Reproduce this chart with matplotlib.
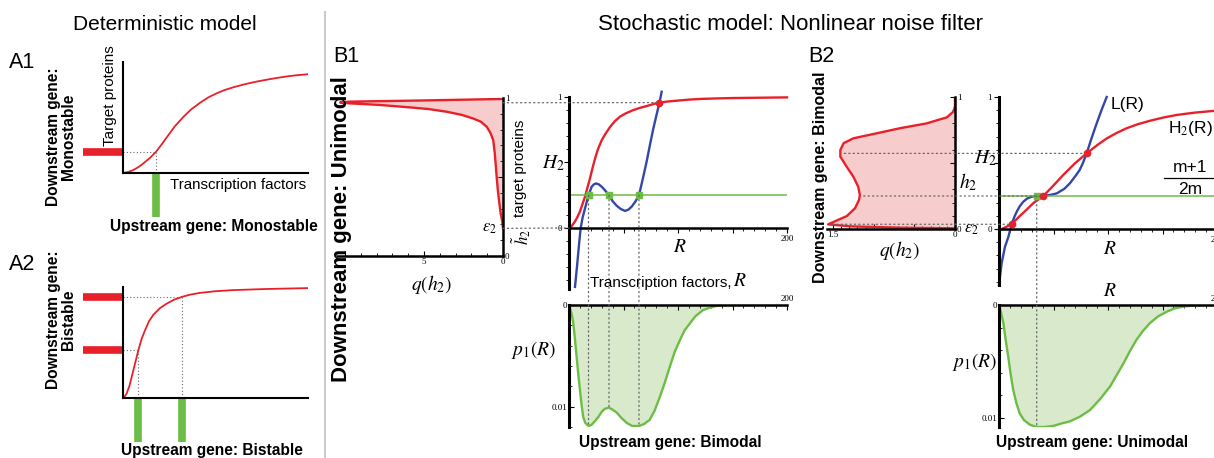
import matplotlib
matplotlib.use("Agg")
import matplotlib.pyplot as plt
import numpy as np
from matplotlib.patches import ConnectionPatch
from matplotlib.lines import Line2D
from matplotlib.ticker import MultipleLocator

plt.rcParams["font.family"] = ["Liberation Sans", "DejaVu Sans"]
plt.rcParams["mathtext.fontset"] = "stix"

RED = "#e8202a"
BLUE = "#3447a8"
GREEN = "#6cbd45"
PINK = "#f6cccc"
LGREEN = "#d8eacb"
DOT = "#666666"

# --- deterministic model: response curves (fraction of axis) ---
a1_x = [0, 0.03, 0.056, 0.085, 0.11, 0.145, 0.178, 0.21, 0.236, 0.28, 0.326, 0.37, 0.416, 0.46, 0.506, 0.55, 0.596, 0.64, 0.685, 0.73, 0.775, 0.83, 0.885, 0.94, 1.0]
a1_y = [0, 0.01, 0.027, 0.055, 0.087, 0.135, 0.19, 0.26, 0.32, 0.42, 0.505, 0.575, 0.632, 0.68, 0.718, 0.748, 0.772, 0.792, 0.81, 0.826, 0.84, 0.856, 0.87, 0.881, 0.89]
a1_state_x = [0.178]
a1_state_y = [0.19]

a2_x = [0, 0.01, 0.02, 0.035, 0.047, 0.065, 0.083, 0.1, 0.119, 0.14, 0.164, 0.2, 0.236, 0.275, 0.317, 0.36, 0.416, 0.5, 0.596, 0.775, 1.0]
a2_y = [0, 0.015, 0.042, 0.11, 0.19, 0.31, 0.43, 0.53, 0.61, 0.69, 0.75, 0.81, 0.85, 0.885, 0.91, 0.93, 0.947, 0.962, 0.972, 0.982, 0.99]
a2_state_x = [0.083, 0.317]
a2_state_y = [0.43, 0.91]

# --- stochastic model B1 ---
b1_h = [0.175, 0.22, 0.27, 0.35, 0.42, 0.5, 0.565, 0.65, 0.734, 0.78, 0.818, 0.85, 0.87, 0.893, 0.913, 0.93, 0.939, 0.948, 0.956, 0.962, 0.966, 0.972, 0.977, 0.984, 0.994]
b1_q = [0.0, 0.05, 0.15, 0.25, 0.33, 0.4, 0.45, 0.52, 0.62, 0.8, 1.03, 1.4, 1.88, 2.6, 3.56, 4.7, 5.7, 6.8, 7.8, 8.9, 9.7, 10.3, 9.7, 5.3, 0.0]

b1_R = [0, 2.5, 5.5, 7.5, 10, 12.3, 14.7, 17, 19.3, 21.5, 23.9, 26.5, 30, 33.5, 37.6, 42, 46.8, 52, 59, 65, 71, 77, 83, 90, 99, 110, 120, 135, 150, 170, 200]
b1_H2 = [0, 0.015, 0.05, 0.08, 0.125, 0.18, 0.24, 0.31, 0.38, 0.455, 0.53, 0.6, 0.67, 0.72, 0.77, 0.815, 0.85, 0.875, 0.9, 0.917, 0.93, 0.945, 0.957, 0.965, 0.972, 0.98, 0.985, 0.989, 0.992, 0.994, 0.997]

b1_L_R = [5.5, 7.5, 9.5, 10.7, 12.5, 14.7, 17.9, 20.8, 22.8, 24.8, 27.3, 30, 33.3, 36.7, 40, 43.7, 47.5, 51.4, 54.5, 57.5, 60.8, 64.2, 67.7, 71.3, 74.4, 77.4, 80.2, 83, 85]
b1_L = [-0.45, -0.28, -0.1, 0.0, 0.08, 0.15, 0.25, 0.315, 0.333, 0.34, 0.333, 0.315, 0.285, 0.25, 0.205, 0.17, 0.145, 0.13, 0.14, 0.163, 0.2, 0.25, 0.375, 0.51, 0.64, 0.76, 0.86, 0.957, 1.04]

b1_theta = 0.25
b1_modes = [17.9, 36.7, 64.2]
b1_fixed = (83, 0.957)
b1_eps = 0.175
b1_top_h = 0.97

b1_p_R = [0, 1, 2.5, 4, 5.5, 7, 8.5, 10, 11.5, 13, 15, 17.9, 20.5, 24, 27, 30, 33, 36.7, 40, 44, 48, 53, 58, 64.2, 69, 74, 78.5, 83.5, 88, 92.7, 97, 102, 106, 111, 116, 123, 128, 135, 142, 150, 200]
b1_p = [0, 0.0003, 0.0009, 0.0018, 0.0034, 0.0051, 0.0068, 0.0083, 0.0098, 0.011, 0.0116, 0.0119, 0.0118, 0.0114, 0.011, 0.0105, 0.0102, 0.0101, 0.0103, 0.0106, 0.0111, 0.0116, 0.0119, 0.0119, 0.0117, 0.0113, 0.0104, 0.009, 0.0076, 0.006, 0.0046, 0.0034, 0.0025, 0.0018, 0.0011, 0.0005, 0.0003, 0.0001, 0.00003, 0.0, 0.0]

# --- stochastic model B2 ---
b2_h = [0.005, 0.01, 0.02, 0.035, 0.063, 0.098, 0.157, 0.22, 0.258, 0.32, 0.396, 0.47, 0.548, 0.598, 0.65, 0.687, 0.72, 0.763, 0.80, 0.846, 0.889, 0.93, 1.0]
b2_q = [0.0, 0.68, 1.29, 1.56, 1.46, 1.33, 1.23, 1.18, 1.17, 1.19, 1.25, 1.33, 1.41, 1.41, 1.37, 1.25, 1.0, 0.68, 0.35, 0.1, 0.02, 0.0, 0.0]

b2_R = [0, 5, 11.6, 18, 25, 32, 40.7, 50, 59, 70, 80.4, 90, 99, 108, 117, 127, 138.5, 150, 163, 180, 200]
b2_H2 = [-0.01, 0.01, 0.036, 0.09, 0.144, 0.2, 0.25, 0.33, 0.41, 0.5, 0.573, 0.635, 0.687, 0.728, 0.763, 0.793, 0.82, 0.843, 0.864, 0.882, 0.897]

b2_L_R = [0, 2.4, 5.5, 8.6, 11.6, 14, 16.2, 19, 22.3, 26, 30, 34.6, 40.7, 47, 53, 60, 65, 70, 74, 77, 80.4, 85, 89.6, 94, 98.8]
b2_L = [-0.424, -0.26, -0.134, -0.06, 0.036, 0.09, 0.13, 0.172, 0.207, 0.232, 0.245, 0.25, 0.252, 0.258, 0.27, 0.305, 0.346, 0.4, 0.447, 0.5, 0.573, 0.69, 0.80, 0.9, 1.0]

b2_theta = 0.25
b2_mode = 34.6
b2_fixed_R = [11.6, 40.7, 80.4]
b2_fixed_H = [0.036, 0.25, 0.573]

b2_p_R = [0, 1.5, 4, 6, 8.5, 10.5, 13, 16, 19, 23, 28.4, 34.6, 42, 50, 57, 65, 74, 83.5, 93, 102, 108, 114, 120, 126, 132, 138.5, 146, 153.8, 161, 169, 180, 200]
b2_p = [0, 0.0005, 0.0016, 0.003, 0.0046, 0.006, 0.0075, 0.0087, 0.0096, 0.0102, 0.0106, 0.0108, 0.0108, 0.0107, 0.0105, 0.0103, 0.0099, 0.0093, 0.0083, 0.0072, 0.0062, 0.0052, 0.0041, 0.0031, 0.0023, 0.0016, 0.001, 0.0006, 0.0003, 0.00015, 0.00003, 0]

W, H = 1214, 458
fig = plt.figure(figsize=(W / 100, H / 100), dpi=100)


def box(x0, y0, x1, y1):
    return fig.add_axes([x0 / W, 1 - y1 / H, (x1 - x0) / W, (y1 - y0) / H])


def ftext(x, y, s, **kw):
    kw.setdefault("ha", "center")
    kw.setdefault("va", "center")
    fig.text(x / W, 1 - y / H, s, **kw)


def serif_ticks(ax):
    for lab in ax.get_xticklabels() + ax.get_yticklabels():
        lab.set_fontfamily("Liberation Serif")
        lab.set_fontsize(6.5)
    ax.tick_params(which="major", length=3.5, width=0.8, pad=1.5)
    ax.tick_params(which="minor", length=2, width=0.6)


def link(axA, xyA, axB, xyB):
    con = ConnectionPatch(xyA=xyA, xyB=xyB, coordsA=axA.transData, coordsB=axB.transData,
                          color=DOT, lw=0.9, linestyle=(0, (1, 2.5)))
    fig.add_artist(con)


# --- deterministic panels ---
def det_panel(ax, xs, ys, sx, sy):
    ax.plot(xs, ys, color=RED, lw=1.3)
    ax.set_xlim(0, 1)
    ax.set_ylim(0, 1)
    for s in ("top", "right"):
        ax.spines[s].set_visible(False)
    for s in ("left", "bottom"):
        ax.spines[s].set_linewidth(1.5)
    ax.set_xticks([])
    ax.set_yticks([])
    ax.patch.set_alpha(0)
    for x, y in zip(sx, sy):
        ax.plot([0, x], [y, y], color=DOT, lw=0.8, ls=(0, (1, 2)))
        ax.plot([x, x], [0, y], color=DOT, lw=0.8, ls=(0, (1, 2)))
        ax.plot([-0.216, 0], [y, y], color=RED, lw=5.5, solid_capstyle="butt", clip_on=False)
        ax.plot([x, x], [0, -0.4], color=GREEN, lw=5.5, solid_capstyle="butt", clip_on=False)


ax_a1 = box(123, 62, 308, 173)
det_panel(ax_a1, a1_x, a1_y, a1_state_x, a1_state_y)
ax_a2 = box(123, 287, 308, 398)
det_panel(ax_a2, a2_x, a2_y, a2_state_x, a2_state_y)

ftext(165, 24, "Deterministic model", fontsize=15)
ftext(9, 62, "A1", fontsize=15.5, ha="left")
ftext(110, 96, "Target proteins", fontsize=11, rotation=90)
ftext(61, 137, "Downstream gene:\nMonostable", fontsize=11.2, weight="bold", rotation=90,
      multialignment="center", linespacing=1.05)
ftext(238, 185, "Transcription factors", fontsize=10.9)
ftext(214, 227, "Upstream gene: Monostable", fontsize=11.2, weight="bold")
ftext(9, 265, "A2", fontsize=15.5, ha="left")
ftext(61, 320, "Downstream gene:\nBistable", fontsize=11.2, weight="bold", rotation=90,
      multialignment="center", linespacing=1.05)
ftext(212, 450, "Upstream gene: Bistable", fontsize=11.2, weight="bold")

fig.add_artist(Line2D([325 / W, 325 / W], [0, 1 - 12 / H], color="#cccccc", lw=1.5))
ftext(790, 24, "Stochastic model: Nonlinear noise filter", fontsize=16)


# --- helpers for stochastic panels ---
def q_panel(ax, h, q, qmax, qticks, qlabels, qminor):
    ax.fill_betweenx(h, q, 0, color=PINK, lw=0)
    ax.plot(q, h, color=RED, lw=1.7)
    ax.set_xlim(qmax, 0)
    ax.set_ylim(0, 1)
    for s in ("top", "left"):
        ax.spines[s].set_visible(False)
    for s in ("right", "bottom"):
        ax.spines[s].set_linewidth(1.8)
    ax.patch.set_alpha(0)
    ax.yaxis.tick_right()
    ax.set_yticks([0, 0.5, 1])
    ax.set_yticklabels(["0", "", "1"])
    ax.yaxis.set_minor_locator(MultipleLocator(0.1))
    ax.set_xticks(qticks)
    ax.set_xticklabels(qlabels)
    ax.xaxis.set_minor_locator(MultipleLocator(qminor))
    ax.tick_params(axis="both", which="both", direction="in")
    serif_ticks(ax)


def h_panel(ax, ymin):
    ax.set_xlim(0, 200)
    ax.set_ylim(ymin, 1)
    ax.spines["top"].set_visible(False)
    ax.spines["right"].set_visible(False)
    ax.spines["bottom"].set_position(("data", 0))
    ax.spines["bottom"].set_linewidth(1.8)
    ax.spines["left"].set_linewidth(2.2)
    ax.patch.set_alpha(0)
    ax.set_xticks([0, 50, 100, 150, 200])
    ax.set_xticklabels(["", "", "", "", "200"])
    ax.xaxis.set_minor_locator(MultipleLocator(10))
    ax.set_yticks([0, 0.5, 1])
    ax.set_yticklabels(["0", "", "1"])
    ax.yaxis.set_minor_locator(MultipleLocator(0.1))
    ax.tick_params(axis="both", which="both", direction="out")
    serif_ticks(ax)


def p_panel(ax, R, p, pmax):
    ax.fill_between(R, p, 0, color=LGREEN, lw=0)
    ax.plot(R, p, color=GREEN, lw=1.7)
    ax.set_xlim(0, 200)
    ax.set_ylim(pmax, 0)
    ax.spines["bottom"].set_visible(False)
    ax.spines["right"].set_visible(False)
    ax.spines["top"].set_linewidth(1.8)
    ax.spines["left"].set_linewidth(2.2)
    ax.patch.set_alpha(0)
    ax.xaxis.tick_top()
    ax.set_xticks([0, 50, 100, 150, 200])
    ax.set_xticklabels(["", "", "", "", "200"])
    ax.xaxis.set_minor_locator(MultipleLocator(10))
    ax.set_yticks([0, 0.01])
    ax.set_yticklabels(["0", "0.01"])
    ax.yaxis.set_minor_locator(MultipleLocator(0.002))
    ax.tick_params(axis="both", which="both", direction="in")
    serif_ticks(ax)


# --- B1 ---
ax_b1q = box(337, 98, 503, 256)
q_panel(ax_b1q, b1_h, b1_q, 10.5, [0, 5, 10], ["0", "5", ""], 1)

ax_b1h = box(569, 97, 787, 289)
h_panel(ax_b1h, -0.466)
ax_b1h.plot(b1_R, b1_H2, color=RED, lw=1.7, clip_on=False)
ax_b1h.plot(b1_L_R, b1_L, color=BLUE, lw=1.7, clip_on=False)
ax_b1h.plot([0, 200], [b1_theta, b1_theta], color=GREEN, lw=1.1)
ax_b1h.plot(b1_modes, [b1_theta] * len(b1_modes), "s", color=GREEN, ms=4.5, zorder=5)
ax_b1h.plot(*b1_fixed, "o", color=RED, ms=4.5, zorder=5)

ax_b1p = box(569, 305, 787, 427)
p_panel(ax_b1p, b1_p_R, b1_p, 0.012)

link(ax_b1q, (0, b1_top_h), ax_b1h, b1_fixed)
link(ax_b1q, (0, b1_eps), ax_b1h, (0, 0))
for r in b1_modes:
    link(ax_b1h, (r, b1_theta), ax_b1p, (r, np.interp(r, b1_p_R, b1_p)))

ftext(333, 57, "B1", fontsize=15.5, ha="left")
ftext(342, 229, "Downstream gene: Unimodal", fontsize=16, weight="bold", rotation=90)
ftext(520, 168, "target proteins", fontsize=11, rotation=90)
ftext(521, 237, r"$\tilde{h}_2$", fontsize=12, rotation=90)
ftext(497, 228, r"$\varepsilon_2$", fontsize=12, ha="right")
ftext(432, 285, r"$q(h_2)$", fontsize=14)
ftext(553, 163, r"$H_2$", fontsize=14)
ftext(680, 247, r"$R$", fontsize=14)
ftext(731, 283, "Transcription factors,", fontsize=11, ha="right")
ftext(740, 281, r"$R$", fontsize=14)
ftext(533, 350, r"$p_1(R)$", fontsize=14)
ftext(670, 442, "Upstream gene: Bimodal", fontsize=11.2, weight="bold")

# --- B2 ---
ax_b2q = box(827, 97, 955, 229)
q_panel(ax_b2q, b2_h, b2_q, 1.574, [0, 0.5, 1, 1.5], ["0", "", "", "1.5"], 0.1)

ax_b2h = box(999, 97, 1217, 285)
h_panel(ax_b2h, -0.424)
ax_b2h.plot(b2_R, b2_H2, color=RED, lw=1.7, clip_on=False)
ax_b2h.plot(b2_L_R, b2_L, color=BLUE, lw=1.7, clip_on=False)
ax_b2h.plot([0, 200], [b2_theta, b2_theta], color=GREEN, lw=1.1)
ax_b2h.plot([b2_mode], [b2_theta], "s", color=GREEN, ms=4.5, zorder=5)
ax_b2h.plot(b2_fixed_R, b2_fixed_H, "o", color=RED, ms=4.5, zorder=5)

ax_b2p = box(999, 305, 1217, 427)
p_panel(ax_b2p, b2_p_R, b2_p, 0.0108)

for r, h in zip(b2_fixed_R, b2_fixed_H):
    link(ax_b2q, (np.interp(h, b2_h, b2_q) - 0.05, h), ax_b2h, (r, h))
link(ax_b2h, (b2_mode, b2_theta), ax_b2p, (b2_mode, np.interp(b2_mode, b2_p_R, b2_p)))

ftext(808, 57, "B2", fontsize=15.5, ha="left")
ftext(820, 177, "Downstream gene: Bimodal", fontsize=11.5, weight="bold", rotation=90)
ftext(900, 250, r"$q(h_2)$", fontsize=14)
ftext(968, 182, r"$h_2$", fontsize=14)
ftext(985, 158, r"$H_2$", fontsize=14)
ftext(971, 230, r"$\varepsilon_2$", fontsize=12)
ftext(1128, 105, "L(R)", fontsize=12.5)
ftext(1190, 128, r"H$_2$(R)", fontsize=12.5)
ftext(1190, 167, "m+1", fontsize=12.5)
ftext(1190, 189, "2m", fontsize=12.5)
fig.add_artist(Line2D([1164 / W, 1216 / W], [1 - 178 / H, 1 - 178 / H], color="black", lw=0.9))
ftext(1110, 250, r"$R$", fontsize=14)
ftext(1110, 292, r"$R$", fontsize=14)
ftext(974, 362, r"$p_1(R)$", fontsize=14)
ftext(1092, 442, "Upstream gene: Unimodal", fontsize=11.2, weight="bold")

fig.savefig("out.png", dpi=100)
